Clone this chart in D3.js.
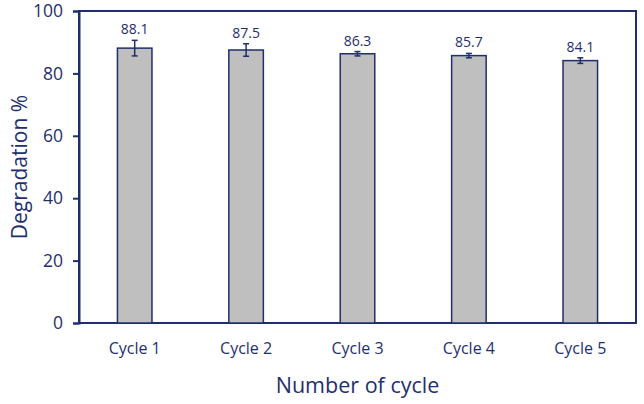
<!DOCTYPE html>
<html><head><meta charset="utf-8">
<script src="https://cdn.jsdelivr.net/npm/d3@7"></script>
<style>body{margin:0;background:#fff}text{font-family:"Open Sans",sans-serif}</style>
</head><body><svg id="c" width="644" height="404"></svg>
<script>
const categories = ["Cycle 1","Cycle 2","Cycle 3","Cycle 4","Cycle 5"];
const values = [88.1, 87.5, 86.3, 85.7, 84.1];
const errors = [2.5, 2.0, 0.7, 0.7, 0.9];
const yTicks = [0,20,40,60,80,100];

const navy = "#1f2f6e";
const m = {l:79, r:8, t:11, b:81};
const W = 644, H = 404;
const svg = d3.select("#c");
const x = d3.scaleBand().domain(categories).range([m.l, W-m.r]).paddingInner(0.69).paddingOuter(0.345);
const y = d3.scaleLinear().domain([0,100]).range([H-m.b, m.t]);

// frame
svg.append("rect").attr("x",m.l).attr("y",m.t).attr("width",W-m.r-m.l).attr("height",H-m.b-m.t)
  .attr("fill","none").attr("stroke",navy).attr("stroke-width",2);

const ya = svg.append("g").attr("transform",`translate(${m.l},0)`)
  .call(d3.axisLeft(y).tickValues(yTicks).tickSize(6).tickPadding(10));
ya.select(".domain").attr("stroke",navy).attr("stroke-width",2);
ya.selectAll("line").attr("stroke",navy).attr("stroke-width",2);
ya.selectAll("text").attr("fill",navy).attr("font-size",17.5);

const xa = svg.append("g").attr("transform",`translate(0,${H-m.b})`)
  .call(d3.axisBottom(x).tickSize(0).tickPadding(20));
xa.select(".domain").remove();
xa.selectAll("text").attr("fill",navy).attr("font-size",16);

svg.selectAll(".bar").data(values).join("rect")
  .attr("x",(d,i)=>x(categories[i])).attr("width",x.bandwidth())
  .attr("y",d=>y(d)).attr("height",d=>y(0)-y(d))
  .attr("fill","#bfbfbf").attr("stroke",navy).attr("stroke-width",1.5);

// error bars
const g = svg.append("g").attr("stroke",navy).attr("stroke-width",1.5);
values.forEach((v,i)=>{
  const cx = x(categories[i]) + x.bandwidth()/2;
  g.append("line").attr("x1",cx).attr("x2",cx).attr("y1",y(v+errors[i])).attr("y2",y(v-errors[i]));
  [v+errors[i], v-errors[i]].forEach(e=>g.append("line").attr("x1",cx-3).attr("x2",cx+3).attr("y1",y(e)).attr("y2",y(e)));
  svg.append("text").attr("x",cx).attr("y",y(v+errors[i])-6).attr("text-anchor","middle")
    .attr("fill",navy).attr("font-size",14).text(v.toFixed(1));
});

svg.append("text").attr("x",(m.l+W-m.r)/2).attr("y",393).attr("text-anchor","middle")
  .attr("fill",navy).attr("font-size",21.5).text("Number of cycle");
svg.append("text").attr("transform",`translate(27,${(m.t+H-m.b)/2}) rotate(-90)`).attr("text-anchor","middle")
  .attr("fill",navy).attr("font-size",21).text("Degradation %");
</script></body></html>
